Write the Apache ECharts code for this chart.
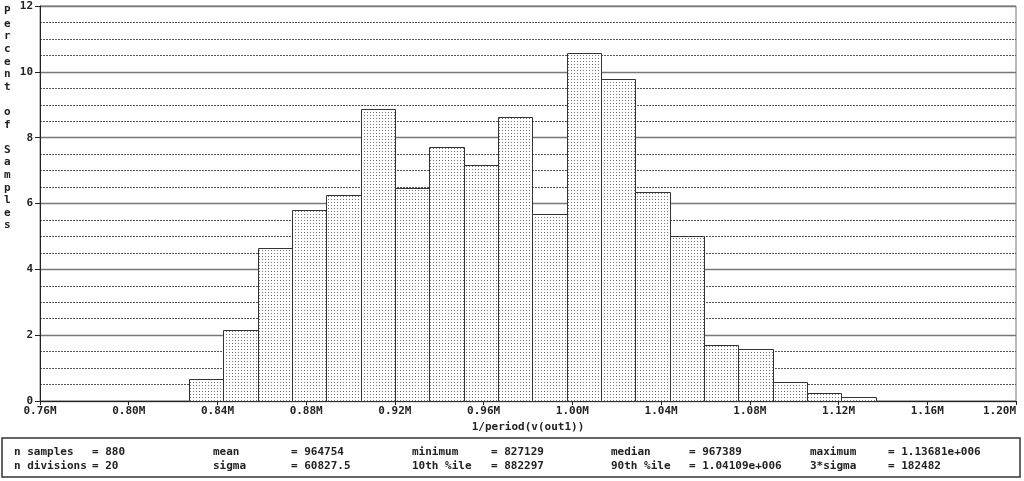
<!DOCTYPE html>
<html><head><meta charset="utf-8">
<script src="https://cdn.jsdelivr.net/npm/echarts@6/dist/echarts.min.js"></script>
<style>html,body{margin:0;padding:0;background:#fff}#c{width:1024px;height:481px}</style>
</head><body><div id="c"></div>
<script>
// Bin edges (20 divisions from minimum 827129 to maximum 1136810)
var binEdges = [827129, 842613, 858097, 873581, 889065, 904549, 920033, 935517, 951001, 966486, 981970,
  997454, 1012938, 1028422, 1043906, 1059390, 1074874, 1090358, 1105842, 1121326, 1136810];
// Percent of samples per bin
var percents = [0.68, 2.16, 4.66, 5.80, 6.25, 8.86, 6.48, 7.73, 7.16, 8.64, 5.68,
  10.57, 9.77, 6.36, 5.00, 1.70, 1.59, 0.57, 0.23, 0.11];
var xTicks = [0.76, 0.80, 0.84, 0.88, 0.92, 0.96, 1.00, 1.04, 1.08, 1.12, 1.16, 1.20];
var yTicks = [0, 2, 4, 6, 8, 10, 12];
var xTitle = '1/period(v(out1))';
var yTitle = 'Percent of Samples';
var statsLabels = [['n samples', 'mean', 'minimum', 'median', 'maximum'],
                   ['n divisions', 'sigma', '10th %ile', '90th %ile', '3*sigma']];
var statsValues = [['= 880', '= 964754', '= 827129', '= 967389', '= 1.13681e+006'],
                   ['= 20', '= 60827.5', '= 882297', '= 1.04109e+006', '= 182482']];

var FONT = '"DejaVu Sans Mono", "Liberation Mono", monospace';

// dot pattern
var pc = document.createElement('canvas');
pc.width = 3; pc.height = 3;
var pctx = pc.getContext('2d');
pctx.fillStyle = '#ffffff'; pctx.fillRect(0, 0, 3, 3);
pctx.fillStyle = '#777777'; pctx.fillRect(1, 1, 1, 1);

var barData = percents.map(function (p, i) { return [binEdges[i], binEdges[i + 1], p]; });

var graphics = [];
// y title, vertical stacked letters
graphics.push({
  type: 'text', left: 4, top: 5,
  style: { text: yTitle.split('').join('\n'), font: 'bold 11px ' + FONT, fill: '#222', lineHeight: 12.6, align: 'left' }
});
// stats box
graphics.push({
  type: 'rect', shape: { x: 2, y: 438, width: 1018, height: 39 },
  style: { fill: 'none', stroke: '#333', lineWidth: 1.5 }
});
var labX = [14, 213, 412, 611, 810];
var valX = [92, 291, 491, 689, 888];
var rowY = [452, 466];
for (var r = 0; r < 2; r++) {
  for (var c = 0; c < 5; c++) {
    graphics.push({ type: 'text', x: labX[c], y: rowY[r],
      style: { text: statsLabels[r][c], font: 'bold 11px ' + FONT, fill: '#222', verticalAlign: 'middle' } });
    graphics.push({ type: 'text', x: valX[c], y: rowY[r],
      style: { text: statsValues[r][c], font: 'bold 11px ' + FONT, fill: '#222', verticalAlign: 'middle' } });
  }
}

var chart = echarts.init(document.getElementById('c'), null, { renderer: 'canvas' });
chart.setOption({
  animation: false,
  backgroundColor: '#fff',
  grid: { left: 40, right: 8, top: 6, bottom: 80, containLabel: false,
    show: true, borderColor: '#777', borderWidth: 1, backgroundColor: 'transparent' },
  xAxis: {
    type: 'value', min: xTicks[0] * 1e6, max: xTicks[xTicks.length - 1] * 1e6, interval: 40000,
    name: xTitle, nameLocation: 'middle', nameGap: 21,
    nameTextStyle: { fontFamily: FONT, fontWeight: 'bold', fontSize: 11, color: '#222' },
    axisLine: { show: true, onZero: false, lineStyle: { color: '#222', width: 1 } },
    axisTick: { show: true, length: 4, lineStyle: { color: '#222' } },
    axisLabel: { margin: 5, fontFamily: FONT, fontWeight: 'bold', fontSize: 11, color: '#222',
      alignMaxLabel: 'right',
      formatter: function (v) { return (v / 1e6).toFixed(2) + 'M'; } },
    splitLine: { show: false }
  },
  yAxis: {
    type: 'value', min: yTicks[0], max: yTicks[yTicks.length - 1], interval: 2,
    axisLine: { show: true, lineStyle: { color: '#222', width: 1 } },
    axisTick: { show: true, length: 5, lineStyle: { color: '#222' } },
    axisLabel: { margin: 7, fontFamily: FONT, fontWeight: 'bold', fontSize: 11, color: '#222' },
    splitLine: { show: true, lineStyle: { color: '#777', width: 1.3, type: 'solid' } },
    minorTick: { show: false, splitNumber: 4 },
    minorSplitLine: { show: true, lineStyle: { color: '#555', width: 1, type: [2, 1] } }
  },
  series: [{
    type: 'custom',
    data: barData,
    encode: { x: [0, 1], y: 2 },
    renderItem: function (params, api) {
      var p0 = api.coord([api.value(0), api.value(2)]);
      var p1 = api.coord([api.value(1), 0]);
      return {
        type: 'rect',
        shape: { x: Math.round(p0[0]) + 0.5, y: Math.round(p0[1]) + 0.5,
          width: Math.round(p1[0]) - Math.round(p0[0]), height: Math.round(p1[1]) - Math.round(p0[1]) },
        style: { fill: { type: 'pattern', image: pc, repeat: 'repeat' }, stroke: '#333', lineWidth: 1 }
      };
    }
  }],
  graphic: graphics
});
</script>
</body></html>
